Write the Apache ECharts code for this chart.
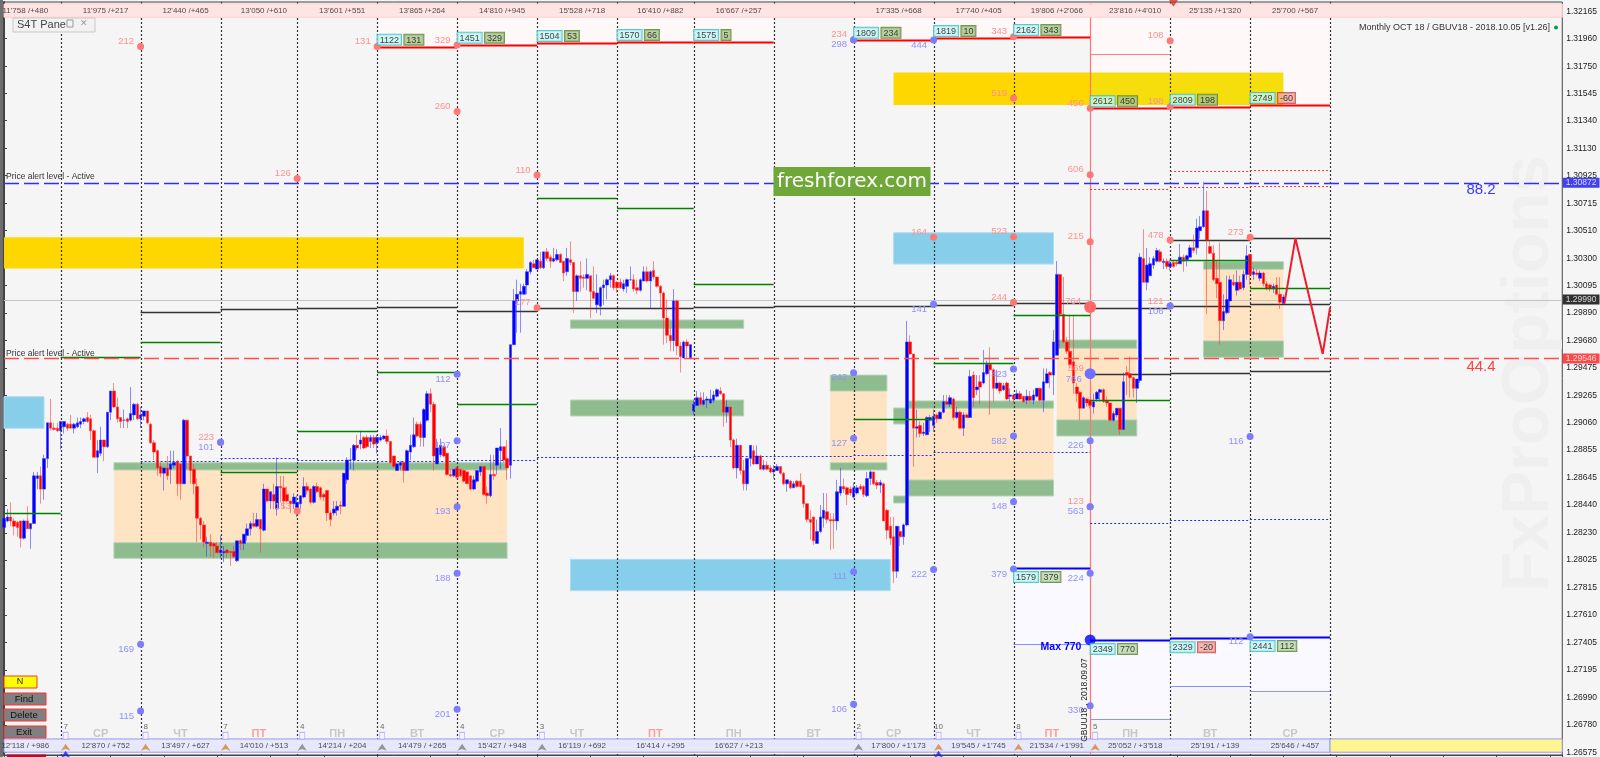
<!DOCTYPE html>
<html>
<head>
<meta charset="utf-8">
<title>Monthly OCT 18 / GBUV18</title>
<script src="https://cdn.jsdelivr.net/npm/echarts@6/dist/echarts.min.js"></script>
<style>
html,body{margin:0;padding:0;background:#f5f5f5;}
#container{width:1600px;height:757px;}
</style>
</head>
<body>
<div id="container"></div>
<script>
// all prices are kept as price x 10000, candles are [open, close, low, high]
var candlesA = [[12827,12834,12826,12835],[12832,12835,12831,12841],[12835,12832,12828,12846],[12832,12828,12821,12834],[12831,12827,12820,12832],[12832,12819,12812,12832],[12819,12832,12818,12833],[12832,12826,12826,12843],[12826,12830,12811,12830],[12830,12866,12830,12869],[12864,12866,12856,12869],[12866,12856,12845,12873],[12856,12879,12848,12882],[12879,12906,12872,12906],[12906,12902,12900,12924],[12902,12901,12900,12906],[12902,12900,12899,12906],[12900,12907,12886,12907],[12903,12907,12898,12907],[12905,12902,12900,12906],[12905,12902,12902,12912],[12902,12905,12898,12906],[12903,12906,12902,12910],[12905,12907,12902,12910],[12907,12909,12905,12910],[12910,12907,12906,12914],[12909,12900,12893,12912],[12900,12880,12880,12901],[12880,12885,12868,12893],[12883,12893,12881,12903],[12893,12888,12877,12893],[12888,12914,12887,12914],[12914,12930,12908,12930],[12930,12918,12917,12936],[12918,12909,12906,12925],[12910,12907,12902,12910],[12908,12908,12902,12916],[12909,12907,12902,12910],[12908,12913,12907,12933],[12912,12920,12908,12921],[12920,12909,12908,12921],
[12909,12912,12902,12918],[12911,12915,12908,12915],[12915,12906,12905,12915],[12905,12891,12890,12906],[12891,12884,12878,12893],[12885,12872,12866,12886],[12873,12868,12865,12876],[12868,12872,12855,12872],[12872,12866,12863,12881],[12871,12875,12860,12885],[12874,12876,12872,12885],[12877,12860,12851,12878],[12875,12860,12848,12875],[12860,12908,12860,12909],[12908,12881,12871,12908],[12881,12870,12860,12881],[12871,12860,12852,12875],[12858,12834,12816,12864],[12834,12829,12818,12835],[12829,12816,12812,12832],[12815,12816,12805,12820],[12816,12813,12805,12822],[12815,12813,12804,12816],[12813,12808,12808,12816],
[12808,12810,12804,12821],[12808,12809,12801,12813],[12810,12808,12804,12811],[12809,12808,12798,12809],[12809,12805,12804,12813],[12802,12817,12801,12817],[12817,12815,12810,12818],[12815,12822,12810,12822],[12821,12826,12817,12830],[12826,12830,12821,12832],[12830,12828,12827,12838],[12828,12833,12827,12838],[12833,12826,12808,12833]];
var candlesB = [[12825,12856,12824,12860],[12856,12847,12846,12856],[12847,12854,12841,12854],[12852,12847,12841,12860],[12841,12858,12836,12880],[12858,12857,12846,12866],[12857,12847,12841,12866],[12852,12847,12846,12858],[12847,12845,12838,12847],[12845,12850,12841,12853],
[12842,12846,12835,12851],[12845,12851,12841,12851],[12850,12858,12849,12865],[12858,12855,12852,12861],[12856,12846,12845,12857],[12846,12858,12845,12859],[12858,12854,12853,12861],[12857,12850,12848,12858],[12852,12850,12847,12853],[12855,12838,12832,12855],[12838,12833,12828,12840],[12838,12841,12836,12847],[12840,12843,12836,12847],[12844,12843,12837,12847],[12843,12868,12843,12868],[12863,12878,12860,12880],[12878,12878,12871,12887],[12878,12889,12870,12890],[12889,12887,12885,12897],[12890,12893,12886,12900],[12895,12887,12886,12896],[12895,12888,12887,12897],[12892,12895,12887,12897],[12895,12890,12887,12897],
[12891,12895,12883,12897],[12893,12895,12892,12897],[12894,12896,12893,12897],[12896,12892,12890,12901],[12892,12876,12875,12892],[12881,12873,12872,12881],[12870,12875,12870,12875],[12874,12876,12870,12877],[12876,12870,12861,12877],[12870,12885,12870,12886],[12884,12889,12878,12897],[12888,12897,12887,12910],[12905,12896,12895,12907],[12905,12895,12888,12907],[12895,12916,12888,12917],[12908,12928,12907,12930],[12928,12920,12914,12932],[12920,12881,12870,12922],[12875,12887,12875,12894],[12882,12889,12880,12894],[12888,12881,12880,12889],[12883,12867,12866,12883],[12867,12866,12865,12871],[12866,12871,12865,12871],
[12872,12865,12864,12873],[12871,12866,12865,12871],[12870,12862,12861,12871],[12869,12860,12860,12869],[12866,12856,12855,12866],[12856,12863,12855,12866],[12862,12870,12861,12870],[12869,12873,12866,12873],[12873,12852,12851,12873],[12853,12851,12845,12858],[12851,12867,12850,12882],[12867,12866,12863,12882],[12874,12887,12867,12887],[12885,12888,12871,12902],[12888,12878,12876,12888],[12879,12872,12863,12893]];
var candlesC = [[12874,12965,12864,12965],[12965,12998,12965,13007],[12998,13003,12974,13014],[13003,13005,12974,13011],[13003,13009,13003,13011],[13010,13020,13003,13022],[13020,13027,13018,13028],[13026,13023,13023,13029],
[13022,13029,13022,13029],[13028,13023,13022,13035],[13023,13035,13022,13035],[13035,13030,13028,13038],[13031,13028,13023,13033],[13028,13030,13027,13038],[13029,13033,13028,13037],[13033,13027,13027,13034],[13028,13019,13013,13028],[13020,13030,13017,13038],[13029,13027,13025,13043],[13027,13005,12989,13027],[13005,13017,12998,13018],[13017,13015,13005,13028],[13016,13015,13008,13018],[13015,13018,13006,13030],[13017,13005,12985,13017],[13005,13000,12999,13024],[12995,13004,12989,13018],[12994,13008,12987,13009],[13008,13010,12995,13014],[13010,13014,12999,13015],[13014,13017,13008,13019],[13017,13008,13006,13018],
[13012,13008,13004,13013],[13012,13008,13007,13015],[13007,13011,13005,13014],[13009,13014,13004,13015],[13014,13014,13013,13024],[13014,13007,13005,13018],[13008,13006,13003,13014],[13006,13014,13005,13015],[13013,13020,13013,13024],[13020,13013,13012,13024],[13013,13020,12992,13021],[13021,13016,13014,13028],[13016,13009,13008,13016],[13009,13004,12992,13010],[13004,12985,12965,13005],[12985,12972,12966,12999],[12972,12968,12960,12978],[12968,12998,12960,13007],[12998,12964,12957,12999],[12964,12956,12944,12967],[12955,12967,12955,12968],[12967,12964,12955,12969],[12955,12965,12955,12965]];
var candlesD = [[12915,12920,12912,12923],[12919,12925,12919,12930],[12925,12920,12919,12929],[12920,12923,12919,12929],[12923,12924,12917,12926],[12921,12924,12920,12931],[12923,12927,12921,12930],[12926,12931,12925,12932],[12930,12928,12927,12933],[12928,12914,12903,12928],[12914,12918,12906,12923],[12918,12893,12888,12918],[12893,12872,12871,12894],[12872,12889,12864,12894],[12889,12870,12867,12889],[12870,12860,12855,12878],[12860,12879,12855,12879],[12879,12889,12873,12889],[12885,12875,12874,12889],[12875,12881,12875,12889],[12881,12871,12871,12882],[12871,12874,12870,12878],[12874,12871,12870,12877],[12872,12869,12868,12874],
[12869,12871,12864,12874],[12870,12873,12870,12875],[12873,12868,12867,12873],[12868,12860,12859,12869],[12860,12863,12854,12863],[12862,12857,12856,12863],[12857,12860,12857,12862],[12862,12858,12857,12863],[12862,12858,12857,12868],[12859,12845,12842,12859],[12845,12833,12831,12845],[12833,12831,12818,12840],[12835,12817,12814,12835],[12815,12824,12815,12833],[12824,12835,12823,12844],[12834,12840,12827,12853],[12839,12833,12830,12853],[12833,12832,12810,12838],[12833,12832,12811,12838],[12832,12854,12825,12863],[12853,12858,12851,12872],[12858,12856,12853,12864],[12857,12852,12844,12858],[12856,12853,12851,12858],
[12850,12857,12849,12861],[12853,12857,12852,12859],[12858,12856,12855,12860],[12858,12852,12850,12859],[12851,12864,12850,12869],[12864,12869,12859,12870],[12869,12860,12859,12869],[12861,12859,12856,12863],[12859,12861,12853,12863],[12860,12832,12832,12861],[12840,12825,12818,12841],[12828,12819,12814,12835],[12820,12794,12785,12835],[12794,12828,12789,12828],[12824,12820,12813,12828],[12820,12829,12814,12830]];
var candlesE = [[12829,12967,12828,12983],[12967,12958,12957,12972],[12958,12902,12873,12958],[12902,12903,12895,12916],[12904,12898,12895,12907],[12898,12899,12896,12906],[12897,12910,12897,12911],[12908,12910,12899,12912],
[12904,12911,12899,12916],[12912,12909,12906,12913],[12909,12914,12909,12915],[12914,12922,12913,12927],[12922,12920,12920,12927],[12920,12925,12918,12927],[12924,12910,12908,12925],[12910,12914,12909,12918],[12914,12902,12902,12915],[12902,12912,12896,12914],[12912,12910,12910,12913],[12910,12941,12910,12946],[12942,12925,12918,12945],[12931,12933,12927,12942],[12937,12933,12920,12942],[12936,12944,12935,12961],[12943,12950,12942,12953],[12950,12946,12912,12963],[12946,12932,12922,12947],[12932,12936,12931,12946],[12936,12930,12928,12937],[12931,12934,12930,12936],[12936,12924,12923,12937],[12926,12927,12922,12932],
[12927,12924,12921,12928],[12924,12928,12924,12931],[12928,12924,12923,12930],[12926,12922,12921,12926],[12923,12926,12920,12931],[12926,12923,12922,12930],[12923,12927,12920,12931],[12926,12932,12925,12932],[12932,12923,12922,12932],[12923,12937,12914,12947],[12936,12943,12936,12947],[12944,12942,12932,12945],[12942,12967,12927,12976],[12957,13018,12957,13028],[13018,12988,12962,13018],[12988,12967,12966,13016],[12967,12960,12958,12971],[12960,12950,12947,12987],[12952,12936,12928,12987],[12933,12928,12922,12936],[12929,12917,12908,12930],[12917,12925,12917,12926],[12924,12921,12918,12925]];
var candlesF = [[12923,12919,12917,12924],[12918,12922,12913,12928],[12924,12929,12922,12930],[12929,12931,12922,12932],[12931,12922,12921,12932],[12923,12921,12918,12926],[12921,12908,12907,12921],[12908,12913,12907,12915],[12912,12917,12910,12917],[12917,12901,12897,12917],[12901,12937,12901,12944],[12944,12942,12927,12949],[12943,12940,12925,12956],[12940,12932,12925,12941],[12932,12939,12921,12939],[12938,13031,12936,13034],[13030,13012,13012,13052],[13012,13025,13006,13038],[13017,13026,13017,13031],[13025,13030,13022,13032],[13028,13036,13027,13038],[13035,13028,13027,13037],[13027,13028,13022,13030],[13028,13024,13022,13030],
[13024,13026,13021,13029],[13027,13024,13023,13028],[13027,13026,13024,13028],[13026,13031,13026,13041],[13031,13028,13020,13033],[13029,13032,13024,13033],[13031,13038,13031,13040],[13038,13036,13034,13048],[13038,13053,13033,13060],[13051,13054,13045,13062],[13054,13066,13053,13088],[13066,13044,12988,13081],[13039,13034,13033,13044],[13034,13014,13013,13040],[13015,13011,13000,13028],[13012,12983,12965,13042],[12983,12990,12976,13003],[12989,12999,12988,13017],[12998,13014,12989,13017],[13012,13010,13009,13018],[13006,13012,13002,13021],[13012,13007,13006,13017],[13008,13018,13006,13021],[13018,13032,13014,13040],
[13033,13018,13010,13033],[13018,13020,13014,13023],[13019,13018,13017,13022],[13015,13019,13013,13021],[13019,13011,13009,13020],[13011,13007,13006,13013],[13010,13007,13005,13011],[13007,13009,13004,13011],[13010,13003,13003,13016],[13003,12997,12992,13016],[12996,13001,12996,13003]];

var yTicks = [13216.5,13196,13175,13154.5,13134,13113,13092.5,13071.5,13051,13030,13009.5,12989,12968,12947.5,12926.5,12906,12885.5,12864.5,12844,12823,12802.5,12781.5,12761,12740.5,12719.5,12699,12678,12657.5];
var alertBlue = 13087.2, alertRed = 12954.6, lastPrice = 12999;
var dayLines = [17,41,65,88,112,136,160,184,207,231,255,279,303,350,374,398];
var todayLine = [326];

// zones: [from candle, to candle, price, price]
var goldZones = [[0,156,13046,13022.5],[267,326,13170.4,13145.8]];
var paleGoldZones = [[326,384,13170.4,13145.8]];
var blueZones = [[0,12,12925.7,12901.9],[170,266,12803,12779.4],[267,315,13049.4,13025.8]];
var orangeZones = [[33,151,12870.4,12815.6],[248,265,12930,12875.9],[271,315,12917,12862.9],[316,340,12962.2,12908.2],[360,384,13021.8,12967.8]];
var greenZones = [[33,151,12875.9,12870.4],[33,151,12815.6,12803.8],[170,222,12983.6,12977.3],[170,222,12923.2,12911.2],[248,265,12942,12930],[248,265,12875.9,12870.4],[267,271,12917.2,12905.1],[267,271,12850.8,12845.5],[271,315,12922.5,12917],[271,315,12862.9,12850.8],[316,340,12968.5,12962.2],[316,340,12908.2,12896.1],[360,384,13027.6,13021.8],[360,384,12967.8,12955.5]];
var paleRedZones = [[112,136,13212,13189.8],[136,160,13212,13191.3],[160,184,13212,13192.6],[184,207,13212,13193.3],[207,231,13212,13193.3],[255,279,13212,13195],[279,303,13212,13196.3],[303,326,13212,13197.1],[326,350,13212,13143.3],[350,374,13212,13144.5],[374,398,13212,13145.8]];
var paleBlueZones = [[303,326,12796.5,12739.3],[326,350,12742.2,12682.8],[350,374,12743.5,12707.3],[374,398,12744.4,12703.5]];

// levels: [from candle, to candle, price]
var redLevels = [[112,136,13189.8],[136,160,13191.3],[160,184,13192.6],[184,207,13193.3],[207,231,13193.3],[255,279,13195],[279,303,13196.3],[303,326,13197.1],[326,350,13143.3],[350,374,13144.5],[374,398,13145.8]];
var blueLevels = [[303,326,12796.5],[326,350,12742.2],[350,374,12743.5],[374,398,12744.4]];
var thinRedLevels = [[326,350,13184.3]];
var thinBlueLevels = [[303,326,12739.3],[326,350,12682.8],[350,374,12707.3],[374,398,12703.5]];
var dotRedLevels = [[350,374,13095.8],[350,374,13083.9],[374,398,13097],[374,398,13085],[326,350,13082.6]];
var dotBlueLevels = [[41,65,12877],[65,88,12879.3],[88,112,12877.8],[112,136,12877],[136,160,12877.8],[160,207,12880],[207,255,12880.8],[255,279,12882.1],[279,303,12883.8],[303,326,12884],[326,350,12830.1],[350,374,12832.4],[374,398,12833.2]];
var greenLevels = [[0,17,12838.2],[17,41,12955.4],[41,65,12967.2],[65,88,12869.1],[88,112,12900.1],[112,136,12944.6],[136,160,12920.5],[160,184,13075.6],[184,207,13068],[207,231,13011],[255,279,12908.9],[279,303,12950.9],[303,326,12987.4],[326,350,12923.2],[350,374,13028.9],[374,398,13008]];
var blackLevels = [[41,65,12989.4],[65,88,12991.9],[88,112,12993],[112,136,12993.4],[136,160,12990.4],[160,207,12992.6],[207,231,12993.2],[231,279,12993.9],[279,303,12995.1],[303,326,12996.6],[326,350,12992.6],[350,374,12993.9],[374,398,12995.4],[326,350,12942.6],[350,374,12943.6],[374,398,12944.9],[350,374,13044],[374,398,13045.4]];
var forecast = [[384.3,12996],[387.6,13045.2],[395.8,12958],[398,12993]];

// dots: [candle, price, text]
var redDots = [[41,13189.9,'212'],[112,13189.9,'131'],[136,13191,'329'],[136,13140.8,'260'],[88,13090.4,'126'],[160,13093,'110'],[88,12839.5,'153'],[65,12891.3,'223'],[160,12992.9,'177'],[255,13195,'234'],[279,13046,'164'],[303,13046.4,'523'],[326,13042.7,'215'],[303,12997,'244'],[350,13044,'478'],[374,13046,'273'],[350,12994.2,'121'],[326,12943.1,'369'],[326,12842.7,'123'],[303,13197.3,'343'],[350,13194.3,'108'],[326,13143.3,'450'],[350,13144.5,'198'],[326,13093.2,'606'],[303,13151,'519']];
var blueDots = [[65,12891.3,'101'],[136,12942.6,'112'],[136,12892.5,'107'],[136,12842.7,'193'],[136,12792.5,'188'],[255,12943.8,'242'],[255,12894.3,'127'],[255,12793.7,'111'],[255,13195,'298'],[279,12795.4,'222'],[303,12795.8,'379'],[326,12792.5,'224'],[41,12739,'169'],[41,12688.6,'115'],[136,12689.9,'201'],[255,12693.7,'106'],[326,12692.6,'330'],[374,12744.7,'112'],[374,12895.6,'116'],[279,12995.4,'141'],[303,12946.6,'423'],[303,12896.1,'582'],[303,12846.5,'148'],[326,12892.5,'226'],[326,12842.7,'563'],[350,12994.2,'106'],[279,13194.8,'444']];
var bigRedDots = [[326,12993.4,'764']];
var bigBlueDots = [[326,12943.1,'766']];
var maxDot = [[326,12742.2]];

// tags on the level lines: [candle, price, count, change]
var redTags = [[112,13189.8,'1122','131'],[136,13191.3,'1451','329'],[160,13192.6,'1504','53'],[184,13193.3,'1570','66'],[207,13193.3,'1575','5'],[255,13195,'1809','234'],[279,13196.3,'1819','10'],[303,13197.1,'2162','343'],[326,13143.3,'2612','450'],[350,13144.5,'2809','198'],[374,13145.8,'2749','-60']];
var blueTags = [[303,12796.5,'1579','379'],[326,12742.2,'2349','770'],[350,12743.5,'2329','-20'],[374,12744.4,'2441','112']];

var stripX = [6.4,30.5,54.5,78,101.5,125.5,149.5,173.5,197,220.5,268.5,292.5,316,339.5,363.5,387.5];
var topTotals = ["11'758 /+480","11'975 /+217","12'440 /+465","13'050 /+610","13'601 /+551","13'865 /+264","14'810 /+945","15'528 /+718","16'410 /+882","16'667 /+257","17'335 /+668","17'740 /+405","19'806 /+2'066","23'816 /+4'010","25'135 /+1'320","25'700 /+567"];
var bottomTotals = ["12'118 / +986","12'870 / +752","13'497 / +627","14'010 / +513","14'214 / +204","14'479 / +265","15'427 / +948","16'119 / +692","16'414 / +295","16'627 / +213","17'800 / +1'173","19'545 / +1'745","21'534 / +1'991","25'052 / +3'518","25'191 / +139","25'646 / +457"];
var weekdays = ['СР','ЧТ','ПТ','ПН','ВТ','СР','ЧТ','ПТ','ПН','ВТ','СР','ЧТ','ПТ','ПН','ВТ','СР'];
var weekdayX = [29,53,76.5,100,124,148,172,195.5,219,243,267,291,314.5,338,362,386];
var dayCounts = [[17,'7'],[41,'8'],[65,'7'],[88,'4'],[112,'4'],[136,'4'],[160,'3'],[255,'2'],[279,'10'],[303,'8'],[326,'5']];
var grayArrows = [88,112,136,160,255];
var orangeArrows = [17,41,65,279,303,326];
var blueArrows = [17,279];

var X_MAX = 467.7, Y_MIN = 12655.4, Y_MAX = 13223.5;
var FONT = '"Liberation Sans"';
var STRIP_TOP = [13222,13212], STRIP_BOTTOM = [12667.5,12657.5];
var allCandles = candlesA.concat(candlesB, candlesC, candlesD, candlesE, candlesF);

function zoneSeries(rows, color, z, border){
    return {
        type:'custom', silent:true, z:z, data:rows, clip:false,
        encode:{x:[0,1], y:[2,3]},
        renderItem:function(params, api){
            var a = api.coord([api.value(0), api.value(2)]);
            var b = api.coord([api.value(1), api.value(3)]);
            return {type:'rect', shape:{x:a[0], y:a[1], width:b[0]-a[0], height:b[1]-a[1]},
                style:{fill:color, stroke:border||null, lineWidth:1}};
        }
    };
}
function levelSeries(rows, color, width, dash, z){
    return {
        type:'custom', silent:true, z:z, data:rows, clip:false,
        encode:{x:[0,1], y:2},
        renderItem:function(params, api){
            var a = api.coord([api.value(0), api.value(2)]);
            var b = api.coord([api.value(1), api.value(2)]);
            var y = Math.round(a[1])+0.5;
            return {type:'line', shape:{x1:a[0], y1:y, x2:b[0], y2:y},
                style:{stroke:color, lineWidth:width, lineDash:dash||null}};
        }
    };
}
function verticalSeries(rows, color, width, dash, z){
    return {
        type:'custom', silent:true, z:z, data:rows.map(function(v){return [v];}), clip:false,
        encode:{x:0},
        renderItem:function(params, api){
            var a = api.coord([api.value(0), Y_MAX]);
            var b = api.coord([api.value(0), Y_MIN]);
            var x = Math.round(a[0])+0.5;
            return {type:'line', shape:{x1:x, y1:a[1], x2:x, y2:b[1]},
                style:{stroke:color, lineWidth:width, lineDash:dash||null}};
        }
    };
}
function textSeries(rows, style, z){
    return {
        type:'scatter', silent:true, z:z, symbolSize:1, clip:false,
        itemStyle:{color:'rgba(0,0,0,0)'}, data:rows,
        label:Object.assign({show:true, position:'inside', fontFamily:FONT, fontSize:8, color:'#222',
            formatter:function(p){return p.value[2];}}, style)
    };
}
function dotSeries(rows, color, textColor, size, offsetY, z){
    return {
        type:'scatter', silent:true, z:z, symbolSize:size, clip:false,
        itemStyle:{color:color, opacity:1}, data:rows,
        label:{show:true, position:'left', distance:3, offset:[0,offsetY], fontFamily:FONT, fontSize:9.5, color:textColor,
            formatter:function(p){return p.value[2];}}
    };
}
function tagSeries(rows, offsetY, valueFill, valueBorder){
    var rich = {
        a:{backgroundColor:'#c4f5f5', borderColor:'#35bcbc', borderWidth:1, padding:[1,2,0,2], color:'#111', fontSize:9, fontFamily:FONT},
        b:{backgroundColor:valueFill, borderColor:valueBorder, borderWidth:1, padding:[1,2,0,2], color:'#111', fontSize:9, fontFamily:FONT},
        n:{backgroundColor:'#f0a8a0', borderColor:'#c04040', borderWidth:1, padding:[1,2,0,2], color:'#111', fontSize:9, fontFamily:FONT}
    };
    return {
        type:'scatter', silent:true, z:12, symbolSize:1, clip:false,
        itemStyle:{color:'rgba(0,0,0,0)'}, data:rows,
        label:{show:true, position:'right', distance:0, offset:[0,offsetY], rich:rich,
            formatter:function(p){
                var neg = String(p.value[3]).charAt(0)=='-';
                return '{a|'+p.value[2]+'} {'+(neg?'n':'b')+'|'+p.value[3]+'}';
            }}
    };
}
function arrowSeries(list, price, color){
    return {
        type:'scatter', silent:true, z:10, symbol:'arrow', symbolSize:7, clip:false,
        itemStyle:{color:color},
        data:list.map(function(x){return [x+1.5, price];})
    };
}
function priceTag(price, bg){
    return {
        type:'scatter', silent:true, z:14, symbolSize:1, clip:false,
        itemStyle:{color:'rgba(0,0,0,0)'}, data:[[X_MAX, price, (price/10000).toFixed(5)]],
        label:{show:true, position:'right', distance:0, backgroundColor:bg, color:'#fff', padding:[1,3,0,3],
            fontFamily:FONT, fontSize:8.5, formatter:function(p){return p.value[2];}}
    };
}
function mapX(list, price, texts){
    return list.map(function(x,i){return [x, price, texts[i]];});
}

var dom = document.getElementById("container");
var myChart = echarts.init(dom);
var option = {
    animation:false,
    backgroundColor:'#f5f5f5',
    grid:{left:4, top:2, width:1559, height:753, show:true, backgroundColor:'#f5f5f5', borderColor:'#444', borderWidth:1},
    xAxis:{type:'value', min:0, max:X_MAX, interval:16, splitLine:{show:false},
        axisLine:{show:true, onZero:false, lineStyle:{color:'#444'}}, axisTick:{show:true, length:2, inside:false, lineStyle:{color:'#444'}}, axisLabel:{show:false}},
    yAxis:{type:'value', position:'right', min:Y_MIN, max:Y_MAX, scale:true, splitLine:{show:false},
        axisLine:{show:true, lineStyle:{color:'#444', width:2}},
        axisTick:{show:true, length:3, lineStyle:{color:'#444'}, customValues:yTicks},
        axisLabel:{customValues:yTicks, margin:4, fontFamily:FONT, fontSize:8.5, color:'#222',
            formatter:function(v){return (v/10000).toFixed(5);}}},
    series:[
        zoneSeries(paleRedZones,'#fff8f8',1),
        zoneSeries(paleBlueZones,'#f9f9ff',1),
        zoneSeries(goldZones,'#ffd700',2),
        zoneSeries(paleGoldZones,'#f6de0c',2),
        zoneSeries(blueZones,'#87ceeb',2,'#b0dcf0'),
        zoneSeries(orangeZones,'#ffe4c4',2),
        zoneSeries(greenZones,'#8fbc8f',2,'#b5d3b5'),
        verticalSeries(dayLines,'#333',1.2,[2,2],3),
        verticalSeries(todayLine,'#ff7474',1.2,null,3),
        levelSeries([[0,X_MAX,lastPrice]],'#c4c4c4',1,null,3),
        levelSeries(blackLevels,'#333',1.3,null,4),
        levelSeries(dotBlueLevels,'#2a2aff',1,[2,2],4),
        levelSeries(dotRedLevels,'#ff3535',1,[2,2],4),
        levelSeries(thinRedLevels,'#ff8080',1,null,4),
        levelSeries(thinBlueLevels,'#8f8fff',1,null,4),
        {
            type:'candlestick', z:6, silent:true, barWidth:3,
            data:allCandles.map(function(c,i){return [i,c[0],c[1],c[2],c[3]];}),
            itemStyle:{color:'#0000ff', color0:'#ff0000', borderColor:'rgba(50,50,255,0.55)', borderColor0:'rgba(255,50,50,0.55)', borderWidth:1}
        },
        levelSeries(greenLevels,'#008000',1.6,null,7),
        levelSeries(redLevels,'#ff0000',2,null,7),
        levelSeries(blueLevels,'#0000ff',2,null,7),
        levelSeries([[0,X_MAX,alertBlue]],'#2e2eff',1.6,[15,5],8),
        levelSeries([[0,X_MAX,alertRed]],'#ff4e4e',1.6,[15,5],8),
        {type:'line', z:8, silent:true, symbol:'none', data:forecast, lineStyle:{color:'#f01c2c', width:2}},
        dotSeries(redDots,'#ff7878','#ff9090',7,-5,9),
        dotSeries(blueDots,'#7c7cff','#9090ff',7,5,9),
        dotSeries(bigRedDots,'#ff6868','#ff9090',12,-6,9),
        dotSeries(bigBlueDots,'#7070ff','#9090ff',11,6,9),
        {type:'scatter', z:9, silent:true, symbolSize:11, data:maxDot, itemStyle:{color:'#0000ff'}},
        tagSeries(redTags,-7,'#a9c48c','#4f7f2a'),
        tagSeries(blueTags,9,'#bcd8ac','#4f7f2a'),
        zoneSeries([[0,X_MAX,STRIP_TOP[0],STRIP_TOP[1]]],'#ffe4e4',10,'#ffd0d0'),
        zoneSeries([[0,398,STRIP_BOTTOM[0],STRIP_BOTTOM[1]]],'#e8e8fc',10,'#9a9af0'),
        zoneSeries([[398,X_MAX,STRIP_BOTTOM[0],STRIP_BOTTOM[1]]],'#fff68f',10,'#9a9af0'),
        textSeries(mapX(stripX,13216.7,topTotals),{},11),
        textSeries(mapX(stripX,12662,bottomTotals),{},11),
        textSeries(mapX(weekdayX,12671,weekdays),{fontSize:11, fontWeight:'bold', color:'#bbbbbb',
            rich:{r:{fontSize:11, fontWeight:'bold', color:'#ff8888'}},
            formatter:function(p){return p.value[2]=='ПТ' ? '{r|ПТ}' : p.value[2];}},11),
        textSeries(dayCounts.map(function(d){return [d[0]+1.5,12676.6,d[1]];}),{color:'#444'},11),
        {type:'scatter', z:11, silent:true, symbol:'rect', symbolSize:[5,7], clip:false,
            itemStyle:{color:'#f5f5ff', borderColor:'#aaaaff', borderWidth:1},
            data:dayCounts.map(function(d){return [d[0]+1.5,12669.8];})},
        arrowSeries(grayArrows,12663.8,'#808080'),
        arrowSeries(orangeArrows,12663.8,'#d8842c'),
        arrowSeries(blueArrows,12658.6,'#2020e0'),
        {type:'scatter', z:11, silent:true, symbol:'arrow', symbolRotate:180, symbolSize:9, clip:false,
            data:[[351,13220]], itemStyle:{color:'#d83030'}},
        priceTag(alertBlue,'#1414f0'),
        priceTag(lastPrice,'#000'),
        priceTag(alertRed,'#ff1c1c')
    ],
    graphic:[
        {type:'rect', z:0, shape:{x:0,y:0,width:3,height:757}, style:{fill:'#6e6e6e'}},
        {type:'text', z:1, rotation:Math.PI/2, x:1497, y:592, style:{text:'FxProOptions', fill:'#efefef', font:'bold 66px '+FONT}},
        {type:'rect', z:100, shape:{x:13,y:18,width:82,height:14}, style:{fill:'#f2f2f2', stroke:'#c8c8c8'}},
        {type:'text', z:101, x:17, y:19, style:{text:'S4T Pane', fill:'#444', font:'11px '+FONT}},
        {type:'rect', z:101, shape:{x:67,y:20,width:6,height:7}, style:{fill:null, stroke:'#999'}},
        {type:'text', z:101, x:80, y:19, style:{text:'✕', fill:'#999', font:'bold 9px "DejaVu Sans"'}},
        {type:'rect', z:100, shape:{x:773.5,y:167,width:157,height:29}, style:{fill:'#6fa738'}},
        {type:'text', z:101, x:852, y:181.5, style:{text:'freshforex.com', fill:'#fff', font:'20px "DejaVu Sans"', align:'center', verticalAlign:'middle'}},
        {type:'text', z:101, x:1550, y:27.5, style:{text:'Monthly OCT 18 / GBUV18 - 2018.10.05 [v1.26]', fill:'#333', font:'9px '+FONT, align:'right', verticalAlign:'middle'}},
        {type:'circle', z:101, shape:{cx:1556,cy:27.5,r:2}, style:{fill:'#00a050'}},
        {type:'text', z:101, x:1481, y:190, style:{text:'88.2', fill:'#3a3aff', font:'15px '+FONT, align:'center', verticalAlign:'middle'}},
        {type:'text', z:101, x:1481, y:367, style:{text:'44.4', fill:'#ff4040', font:'15px '+FONT, align:'center', verticalAlign:'middle'}},
        {type:'text', z:101, x:6, y:176.5, style:{text:'Price alert level - Active', fill:'#333', font:'8.5px '+FONT, verticalAlign:'middle'}},
        {type:'text', z:101, x:6, y:354, style:{text:'Price alert level - Active', fill:'#333', font:'8.5px '+FONT, verticalAlign:'middle'}},
        {type:'text', z:101, x:1061, y:647, style:{text:'Max 770', fill:'#0000ff', font:'bold 10.5px '+FONT, align:'center', verticalAlign:'middle'}},
        {type:'text', z:101, x:1085, y:700, rotation:Math.PI/2, style:{text:'GBUU18 , 2018.09.07', fill:'#222', font:'8.5px '+FONT, align:'center', verticalAlign:'middle'}},
        {type:'rect', z:100, shape:{x:4,y:676,width:33,height:12}, style:{fill:'#ffff00', stroke:'#ff3030'}},
        {type:'text', z:101, x:20,y:682, style:{text:'N', fill:'#222', font:'9px '+FONT, align:'center', verticalAlign:'middle'}},
        {type:'rect', z:100, shape:{x:4,y:693,width:42,height:12}, style:{fill:'#808080', stroke:'#ff3030'}},
        {type:'text', z:101, x:24,y:699, style:{text:'Find', fill:'#111', font:'9.5px '+FONT, align:'center', verticalAlign:'middle'}},
        {type:'rect', z:100, shape:{x:4,y:709,width:42,height:12}, style:{fill:'#808080', stroke:'#ff3030'}},
        {type:'text', z:101, x:24,y:715, style:{text:'Delete', fill:'#111', font:'9.5px '+FONT, align:'center', verticalAlign:'middle'}},
        {type:'rect', z:100, shape:{x:4,y:726,width:42,height:12}, style:{fill:'#808080', stroke:'#ff3030'}},
        {type:'text', z:101, x:24,y:732, style:{text:'Exit', fill:'#111', font:'9.5px '+FONT, align:'center', verticalAlign:'middle'}},
        {type:'rect', z:100, shape:{x:7,y:754.5,width:39,height:2.5}, style:{fill:'#b01030'}}
    ]
};
myChart.setOption(option, true);
</script>
</body>
</html>
